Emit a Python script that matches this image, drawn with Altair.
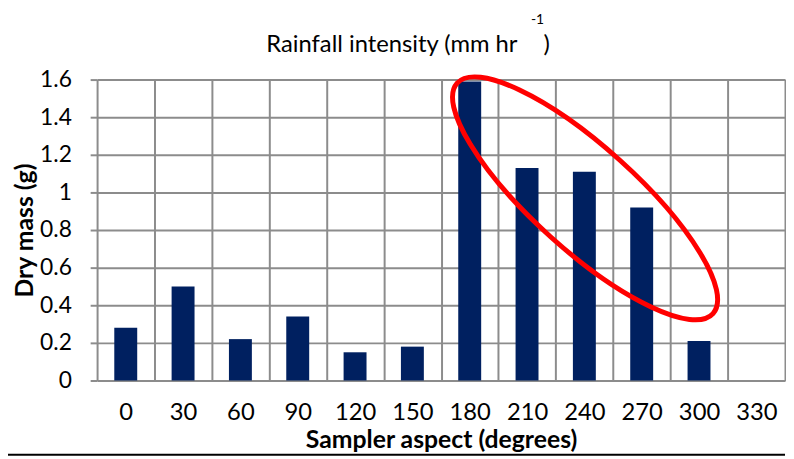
import altair as alt
import pandas as pd

# ---- data ----
aspect_labels = ["0", "30", "60", "90", "120", "150", "180", "210", "240", "270", "300", "330"]
aspects = ["0", "30", "60", "90", "120", "150", "180", "210", "240", "270", "300"]
dry_mass = [0.28, 0.50, 0.22, 0.34, 0.15, 0.18, 1.59, 1.13, 1.11, 0.92, 0.21]
y_ticks = [0, 0.2, 0.4, 0.6, 0.8, 1, 1.2, 1.4, 1.6]

title_main = ["Rainfall intensity (mm hr"]
title_close = [")"]
title_sup = ["-1"]
x_title = "Sampler aspect (degrees)"
y_title = "Dry mass (g)"

df = pd.DataFrame({"aspect": aspects, "mass": dry_mass})

W, H = 695, 304
FONT = "Lato"
GRID = "#8c8c8c"
BAR = "#002060"

ELLIPSE = ("M -1 0 C -1 -0.1657 -0.5523 -0.3 0 -0.3 "
           "C 0.5523 -0.3 1 -0.1657 1 0 "
           "C 1 0.1657 0.5523 0.3 0 0.3 "
           "C -0.5523 0.3 -1 0.1657 -1 0 Z")

bars = alt.Chart(df).mark_bar(width={"band": 0.4}, color=BAR).encode(
    x=alt.X(
        "aspect:N",
        sort=aspect_labels,
        scale=alt.Scale(domain=aspect_labels, paddingInner=0, paddingOuter=0),
        axis=alt.Axis(
            title=x_title, labelAngle=0, tickBand="extent", grid=True,
            gridColor=GRID, gridWidth=2, gridOpacity=1, ticks=False, domain=False,
            labelPadding=20, labelFontSize=24, labelFont=FONT, labelColor="black",
            titleFont=FONT, titleFontSize=25, titleFontWeight="bold",
            titleColor="black", titleY=60, titleBaseline="middle",
        ),
    ),
    y=alt.Y(
        "mass:Q",
        scale=alt.Scale(domain=[0, 1.6], nice=False, zero=True),
        axis=alt.Axis(
            title=y_title, values=y_ticks, format="~g", grid=True,
            gridColor=GRID, gridWidth=2, gridOpacity=1, domain=False,
            tickSize=7, tickColor=GRID, tickWidth=2, labelPadding=19,
            labelFontSize=23, labelFont=FONT, labelColor="black",
            titleFont=FONT, titleFontSize=25, titleFontWeight="bold",
            titleColor="black", titleX=-73, titleY=152, titleAngle=270,
            titleAlign="center", titleBaseline="middle",
        ),
    ),
)

ellipse = alt.Chart(pd.DataFrame({"k": ["oval"]})).mark_point(
    shape=ELLIPSE, size=121000, angle=42, filled=False, stroke="#ff0000",
    strokeWidth=5, opacity=1,
).encode(x=alt.value(493), y=alt.value(120))

t_main = alt.Chart(pd.DataFrame({"t": title_main})).mark_text(
    font=FONT, fontSize=24, color="black", align="left", baseline="alphabetic",
).encode(text="t:N", x=alt.value(171), y=alt.value(-28))

t_close = alt.Chart(pd.DataFrame({"t": title_close})).mark_text(
    font=FONT, fontSize=24, color="black", align="left", baseline="alphabetic",
).encode(text="t:N", x=alt.value(451), y=alt.value(-28))

t_sup = alt.Chart(pd.DataFrame({"t": title_sup})).mark_text(
    font=FONT, fontSize=14, color="black", align="center", baseline="alphabetic",
).encode(text="t:N", x=alt.value(445), y=alt.value(-56))

bottom = alt.Chart(pd.DataFrame({"k": [0]})).mark_rule(
    color="black", strokeWidth=2,
).encode(x=alt.value(-90), x2=alt.value(W), y=alt.value(379))

chart = alt.layer(bars, ellipse, t_main, t_close, t_sup, bottom).properties(
    width=W, height=H,
    autosize=alt.AutoSizeParams(type="none"),
    padding={"left": 90, "top": 70, "right": 1, "bottom": 77},
).configure_view(stroke=GRID, strokeWidth=2).configure(background="white")

chart.save("out.html", embed_options={"renderer": "svg", "actions": False})
